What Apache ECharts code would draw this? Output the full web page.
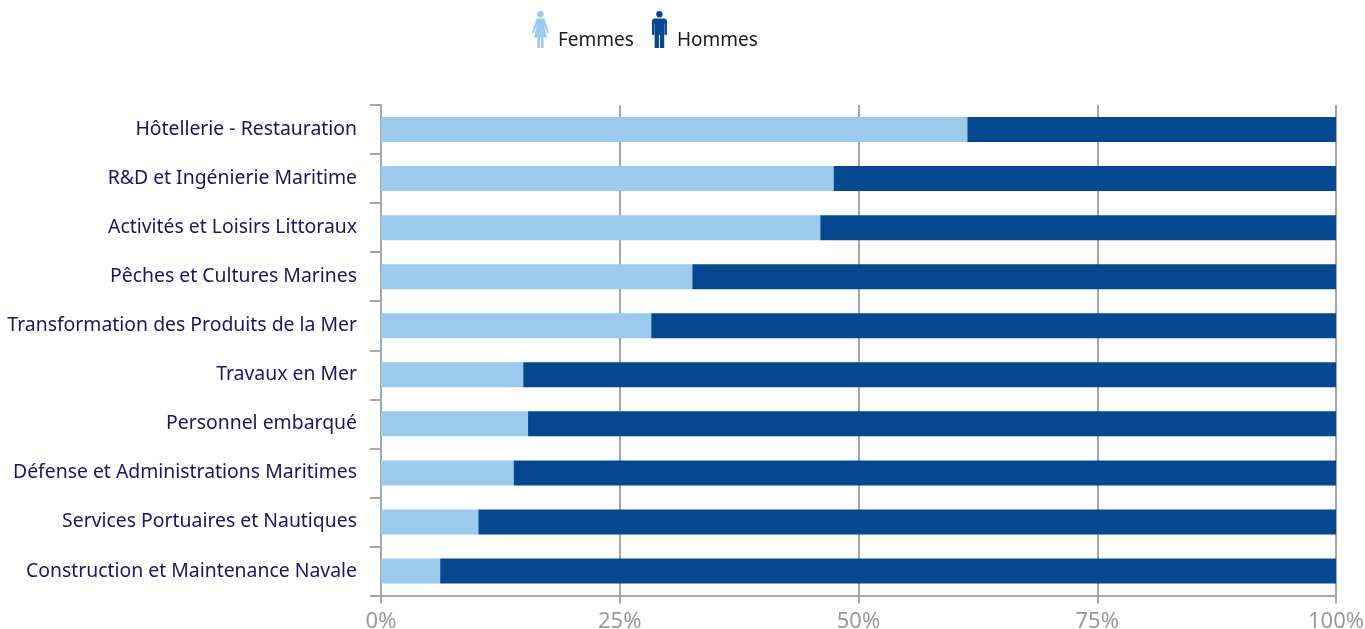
<!DOCTYPE html>
<html>
<head>
<meta charset="utf-8">
<title>Femmes / Hommes</title>
<script src="https://cdn.jsdelivr.net/npm/echarts@6/dist/echarts.min.js"></script>
<style>
  html, body { margin: 0; padding: 0; background: #fff; }
  #main { width: 1365px; height: 629px; }
</style>
</head>
<body>
<div id="main"></div>
<script>
  var categories = [
    "Hôtellerie - Restauration",
    "R&D et Ingénierie Maritime",
    "Activités et Loisirs Littoraux",
    "Pêches et Cultures Marines",
    "Transformation des Produits de la Mer",
    "Travaux en Mer",
    "Personnel embarqué",
    "Défense et Administrations Maritimes",
    "Services Portuaires et Nautiques",
    "Construction et Maintenance Navale"
  ];
  var femmes = [61.4, 47.4, 46.0, 32.6, 28.3, 14.9, 15.4, 13.9, 10.2, 6.2];
  var hommes = [38.6, 52.6, 54.0, 67.4, 71.7, 85.1, 84.6, 86.1, 89.8, 93.8];
  var xTicks = { min: 0, max: 100, interval: 25 };

  // pictogrammes de la légende
  var iconFemme = "path://M8.5 0a3.2 3.2 0 1 1 0 6.4a3.2 3.2 0 1 1 0-6.4z" +
    "M6 7.4h5c1 0 1.6.6 2 1.6L17 21.5l-1.6.7L12 13.5L15 26.5H11.6V37H9V26.5H8V37H5.4V26.5H2L5 13.5L1.6 22.2L0 21.5L4 9c.4-1 1-1.6 2-1.6z";
  var iconHomme = "path://M7.5 0a3.2 3.2 0 1 1 0 6.4a3.2 3.2 0 1 1 0-6.4z" +
    "M3 7.4h9c1.8 0 3 1.2 3 3V23c0 1.6-2.4 1.6-2.4 0V12.5h-.3V37H8V24H7V37H2.7V12.5h-.3V23C2.4 24.6 0 24.6 0 23V10.4c0-1.8 1.2-3 3-3z";

  var chart = echarts.init(document.getElementById("main"));
  chart.setOption({
    animation: false,
    textStyle: { fontFamily: "Noto Sans" },
    legend: {
      left: 532,
      top: 11,
      padding: 0,
      itemWidth: 17,
      itemHeight: 37,
      itemGap: 18,
      selectedMode: false,
      // le texte est plus bas que le milieu du pictogramme
      formatter: "{t|{name}}",
      textStyle: {
        rich: {
          t: {
            fontFamily: "Noto Sans",
            fontSize: 19,
            color: "#1a1a1a",
            padding: [22, 0, 0, 4]
          }
        }
      },
      data: [
        { name: "Femmes", icon: iconFemme },
        { name: "Hommes", icon: iconHomme }
      ]
    },
    grid: { left: 381, right: 29, top: 105, bottom: 33.5, outerBoundsMode: "none" },
    xAxis: {
      type: "value",
      min: xTicks.min,
      max: xTicks.max,
      interval: xTicks.interval,
      axisLine: { show: true, lineStyle: { color: "#a6a6a6", width: 2 } },
      axisTick: { show: true, length: 8, lineStyle: { color: "#a6a6a6", width: 2 } },
      splitLine: { show: true, lineStyle: { color: "#a6a6a6", width: 2 } },
      axisLabel: {
        formatter: "{value}%",
        color: "#999999",
        fontSize: 22,
        margin: 15,
        hideOverlap: false
      }
    },
    yAxis: {
      type: "category",
      inverse: true,
      data: categories,
      axisLine: { show: true, lineStyle: { color: "#a6a6a6", width: 2 } },
      axisTick: { show: true, length: 11, lineStyle: { color: "#a6a6a6", width: 2 } },
      axisLabel: {
        color: "#1d1464",
        fontSize: 19.4,
        margin: 24,
        interval: 0
      }
    },
    series: [
      {
        name: "Femmes",
        type: "bar",
        stack: "total",
        barWidth: 25,
        itemStyle: { color: "#9bcaec" },
        data: femmes
      },
      {
        name: "Hommes",
        type: "bar",
        stack: "total",
        barWidth: 25,
        itemStyle: { color: "#04488f" },
        data: hommes
      }
    ]
  });
</script>
</body>
</html>
